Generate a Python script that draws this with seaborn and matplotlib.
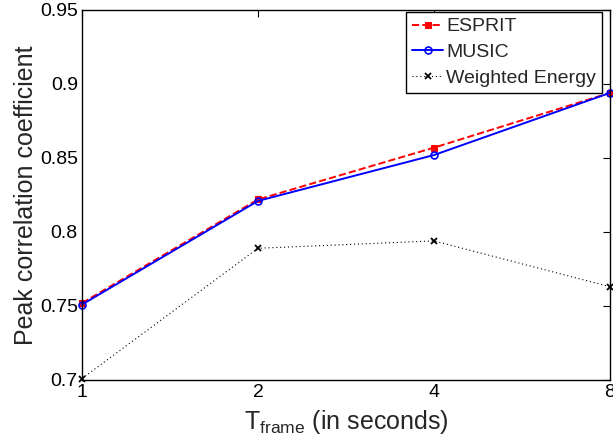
import matplotlib
matplotlib.use("Agg")
import matplotlib.pyplot as plt
import seaborn as sns
import pandas as pd
import numpy as np

t_frame = [1, 2, 4, 8]
esprit = [0.752, 0.822, 0.857, 0.894]
music = [0.751, 0.821, 0.852, 0.894]
weighted = [0.701, 0.789, 0.794, 0.763]
x_ticks = [1, 2, 4, 8]
x_tick_labels = ["1", "2", "4", "8"]
y_ticks = [0.7, 0.75, 0.8, 0.85, 0.9, 0.95]
y_tick_labels = ["0.7", "0.75", "0.8", "0.85", "0.9", "0.95"]

sns.set_style("white")
plt.rcParams['font.family'] = ['Liberation Sans', 'DejaVu Sans']
plt.rcParams['mathtext.default'] = 'regular'

fig = plt.figure(figsize=(6.13, 4.46), dpi=100)
ax = fig.add_axes([82/613, 1-380/446, (610-82)/613, 370/446])

df = pd.DataFrame({"t": t_frame, "ESPRIT": esprit, "MUSIC": music, "Weighted Energy": weighted})

sns.lineplot(data=df, x="t", y="ESPRIT", ax=ax, color="red", linestyle="--", lw=1.4,
             marker="s", markersize=4, markerfacecolor="red", markeredgecolor="red",
             label="ESPRIT", clip_on=False)
sns.lineplot(data=df, x="t", y="MUSIC", ax=ax, color="blue", linestyle="-", lw=1.4,
             marker="o", markersize=5, markerfacecolor="none", markeredgecolor="blue",
             markeredgewidth=1.2, label="MUSIC", clip_on=False)
sns.lineplot(data=df, x="t", y="Weighted Energy", ax=ax, color="black", linestyle=(0, (1, 2.5)), lw=0.8,
             marker="x", markersize=4, markeredgewidth=1.3, markeredgecolor="black",
             label="Weighted Energy", clip_on=False)

ax.set_xscale("log", base=2)
ax.set_xlim(1, 8)
ax.set_ylim(0.7, 0.95)
ax.set_xticks(x_ticks)
ax.set_xticklabels(x_tick_labels)
ax.xaxis.set_minor_locator(matplotlib.ticker.NullLocator())
ax.set_yticks(y_ticks)
ax.set_yticklabels(y_tick_labels)

ax.tick_params(direction="in", length=5, width=0.8, top=True, right=True, labelsize=14, pad=3, colors="black")
for s in ax.spines.values():
    s.set_visible(True)
    s.set_color("black")
    s.set_linewidth(1.0)

ax.set_xlabel(r"T$_{frame}$ (in seconds)", fontsize=18, labelpad=5)
ax.set_ylabel("Peak correlation coefficient", fontsize=18, labelpad=1)

leg = ax.legend(loc="upper right", bbox_to_anchor=((602-82)/528, (380-12)/370),
                fontsize=14, frameon=True, fancybox=False, framealpha=1,
                edgecolor="black", borderpad=0.3, labelspacing=0.42, handlelength=1.6,
                handletextpad=0.15, borderaxespad=0)
leg.get_frame().set_linewidth(1.0)

fig.savefig("out.png", dpi=100)
